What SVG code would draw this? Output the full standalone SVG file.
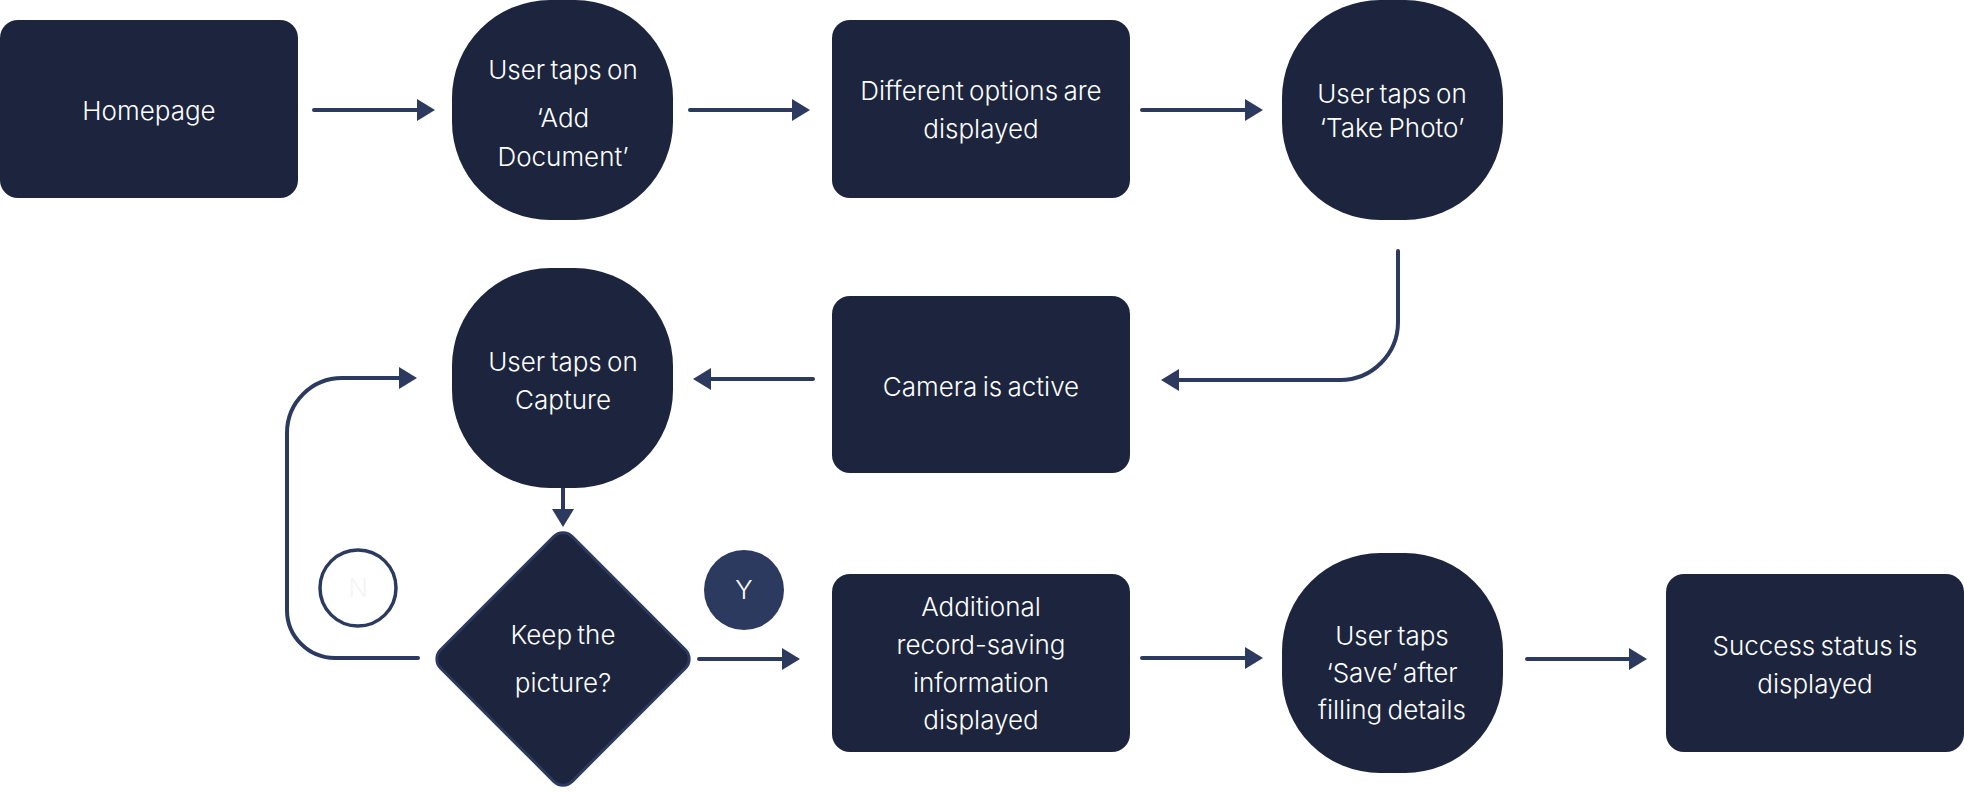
<svg xmlns="http://www.w3.org/2000/svg" width="1964" height="792" viewBox="0 0 1964 792">
<defs>
<style>
.node{fill:#1c253d;}
.lbl{fill:#ffffff;font-family:Inter,"Noto Sans","Liberation Sans",sans-serif;font-size:26px;font-weight:300;word-spacing:-2px;text-anchor:middle;}
.conn{fill:none;stroke:#2b3a5e;stroke-width:4;stroke-linecap:round;stroke-linejoin:round;}
</style>
<marker id="ah" markerUnits="userSpaceOnUse" markerWidth="20" markerHeight="24" viewBox="0 0 20 24" refX="9" refY="12" orient="auto">
<path d="M1,1 L19,12 L1,23 z" fill="#2b3a5e"/>
</marker>
<rect id="sq" x="-110.5" y="-110" width="221" height="220" rx="98" ry="98"/>
</defs>
<rect width="1964" height="792" fill="#ffffff"/>

<g id="connectors">
<path class="conn" marker-end="url(#ah)" d="M314,110 H425"/>
<path class="conn" marker-end="url(#ah)" d="M690,110 H800"/>
<path class="conn" marker-end="url(#ah)" d="M1142,110 H1253"/>
<path class="conn" marker-end="url(#ah)" d="M1398,251 V322 A58,58 0 0 1 1340,380 H1171"/>
<path class="conn" marker-end="url(#ah)" d="M813,379 H703"/>
<path class="conn" marker-end="url(#ah)" d="M563,488 V517"/>
<path class="conn" marker-end="url(#ah)" d="M418,658 H335 A48,48 0 0 1 287,610 V433 A55,55 0 0 1 342,378 H407"/>
<path class="conn" marker-end="url(#ah)" d="M699,659 H790"/>
<path class="conn" marker-end="url(#ah)" d="M1142,658 H1253"/>
<path class="conn" marker-end="url(#ah)" d="M1527,659 H1637"/>
</g>

<g id="homepage">
<rect class="node" x="0" y="20" width="298" height="178" rx="18"/>
<text class="lbl" x="149" y="120">Homepage</text>
</g>

<g id="add-document">
<use href="#sq" class="node" transform="translate(562.5,110)"/>
<text class="lbl" x="563" y="79">User taps on</text>
<text class="lbl" x="563" y="127">‘Add</text>
<text class="lbl" x="563" y="166">Document’</text>
</g>

<g id="options">
<rect class="node" x="832" y="20" width="298" height="178" rx="18"/>
<text class="lbl" x="981" y="100">Different options are</text>
<text class="lbl" x="981" y="138">displayed</text>
</g>

<g id="take-photo">
<use href="#sq" class="node" transform="translate(1392.5,110)"/>
<text class="lbl" x="1392" y="103">User taps on</text>
<text class="lbl" x="1392" y="137">‘Take Photo’</text>
</g>

<g id="camera">
<rect class="node" x="832" y="296" width="298" height="177" rx="18"/>
<text class="lbl" x="981" y="396">Camera is active</text>
</g>

<g id="capture">
<use href="#sq" class="node" transform="translate(562.5,378)"/>
<text class="lbl" x="563" y="371">User taps on</text>
<text class="lbl" x="563" y="409">Capture</text>
</g>

<g id="keep-picture">
<rect x="-93" y="-93" width="186" height="186" rx="13" transform="translate(563,659) rotate(45)" fill="#1c253d" stroke="#2b3a5e" stroke-width="3"/>
<text class="lbl" x="563" y="644">Keep the</text>
<text class="lbl" x="563" y="692">picture?</text>
</g>

<g id="label-n">
<circle cx="358" cy="588" r="38" fill="#ffffff" stroke="#2b3a5e" stroke-width="3.5"/>
<text class="lbl" x="358" y="597" style="fill:#f5f5f5">N</text>
</g>

<g id="label-y">
<circle cx="744" cy="590" r="40" fill="#2b3a5e"/>
<text class="lbl" x="744" y="599">Y</text>
</g>

<g id="additional-info">
<rect class="node" x="832" y="574" width="298" height="178" rx="18"/>
<text class="lbl" x="981" y="616">Additional</text>
<text class="lbl" x="981" y="654">record-saving</text>
<text class="lbl" x="981" y="692">information</text>
<text class="lbl" x="981" y="729">displayed</text>
</g>

<g id="save">
<use href="#sq" class="node" transform="translate(1392.5,663)"/>
<text class="lbl" x="1392" y="645">User taps</text>
<text class="lbl" x="1392" y="682">‘Save’ after</text>
<text class="lbl" x="1392" y="719">filling details</text>
</g>

<g id="success">
<rect class="node" x="1666" y="574" width="298" height="178" rx="18"/>
<text class="lbl" x="1815" y="655">Success status is</text>
<text class="lbl" x="1815" y="693">displayed</text>
</g>
</svg>
